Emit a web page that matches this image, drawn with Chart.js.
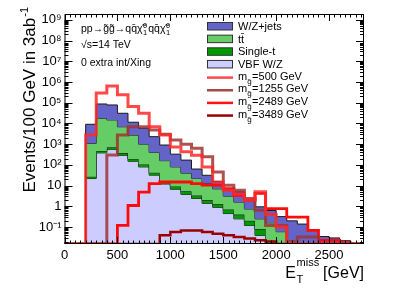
<!DOCTYPE html>
<html>
<head>
<meta charset="utf-8">
<script src="https://cdn.jsdelivr.net/npm/chart.js@4.4.1/dist/chart.umd.min.js"></script>
<style>
  html, body { margin: 0; padding: 0; background: #fff; }
  #wrap { width: 405px; height: 291px; }
</style>
</head>
<body>
<div id="wrap"><canvas id="c" width="405" height="291"></canvas></div>
<script>
// bin lower edges, 100 GeV wide
const binLow = [0,100,200,300,400,500,600,700,800,900,1000,1100,1200,1300,1400,
                1500,1600,1700,1800,1900,2000,2100,2200,2300,2400,2500,2600,2700];

// backgrounds (per bin, events / 100 GeV)
const vbfWZ   = [0,0,22,380,560,290,150,80,32,12,6.7,3.8,2.4,1.4,0.9,0.45,0.25,0.12,0.04,0,0,0,0,0,0,0,0,0];
const singleT = [0,0,5,90,150,80,45,25,10,4,2.5,1.5,0.9,0.6,0.4,0.25,0.15,0.08,0.04,0.02,0,0,0,0,0,0,0,0];
const ttbar   = [0,0,1070,17300,14100,6530,2550,895,358,144,71,35,19,10.6,5.7,2.4,1.2,0.55,0.17,0.14,0.06,0,0,0,0,0,0,0];
const wzJets  = [0,0,8000,69000,63000,24000,8700,4900,1900,750,250,130,41,19,8.8,3.1,3.4,1.2,0.7,0.47,0.26,0.2,0.14,0.07,0.035,0.03,0.022,0];

// signals
const sig500  = [0,0,2800,290000,640000,240000,65000,31000,6900,2800,740,430,295,80,15,6,4,2,5,0.4,0.1,0,0,0,0,0,0,0];
const sig1255 = [0,0,0,0,300,2800,7000,7000,4800,3000,1600,1000,630,245,46,10.5,6,2.4,0.65,0.12,0.12,0.02,0.033,0.033,0,0,0,0];
const sig2489 = [0,0,0,0,0,0.12,1.1,4.9,12.6,15,15,15,12.6,10.5,10.5,7.2,3.4,2,4.2,0.77,0.77,0.3,0.3,0.07,0.023,0.023,0.018,0];
const sig3489 = [0,0,0,0,0,0,0,0,0,0.04,0.058,0.069,0.069,0.058,0.048,0.04,0.033,0.028,0.023,0.02,0,0,0,0,0,0,0,0];

const xTicks = [0, 500, 1000, 1500, 2000, 2500];
const yExps = [-1,0,1,2,3,4,5,6,7,8,9];

const Y_MIN = 0.0153, Y_MAX = 1.9e9, X_MAX = 2830;
const FONT = "'Liberation Sans', Arial, sans-serif";

function steps(vals) {
  const pts = vals.map((v, i) => ({ x: binLow[i], y: Math.max(v, Y_MIN) }));
  pts.push({ x: binLow[binLow.length - 1] + 100, y: Math.max(vals[vals.length - 1], Y_MIN) });
  return pts;
}
function addArr(a, b) { return a.map((v, i) => v + b[i]); }

const cumVbf = vbfWZ;
const cumSt = addArr(cumVbf, singleT);
const cumTt = addArr(cumSt, ttbar);
const cumWz = addArr(cumTt, wzJets);

const sup = { '-': '\u207B', '0': '\u2070', '1': '\u00B9', '2': '\u00B2', '3': '\u00B3',
  '4': '\u2074', '5': '\u2075', '6': '\u2076', '7': '\u2077', '8': '\u2078', '9': '\u2079' };

// 'before' = horizontal at previous value, then vertical at the next edge
function bgSet(label, data, color, fill, order) {
  return { label, data: steps(data), stepped: 'before', fill, backgroundColor: color,
    borderColor: '#1a1a1a', borderWidth: 1, pointRadius: 0, order, clip: 0 };
}
function sigSet(label, data, color, width) {
  return { label, data: steps(data), stepped: 'before', fill: false, borderColor: color,
    borderWidth: width, pointRadius: 0, order: 0, clip: 0 };
}

const legendItems = [
  { text: 'W/Z+jets', box: '#6464c8' },
  { text: 'tt\u0304', box: '#66cc66' },
  { text: 'Single-t', box: '#009900' },
  { text: 'VBF W/Z', box: '#ccccff' },
  { mass: '500', line: '#ff4a4a' },
  { mass: '1255', line: '#a84848' },
  { mass: '2489', line: '#ff1010' },
  { mass: '3489', line: '#9a0000' }
];

const rootStyle = {
  id: 'rootStyle',
  afterDraw(chart) {
    const ctx = chart.ctx;
    const { left, right, top, bottom } = chart.chartArea;
    const xs = chart.scales.x, ys = chart.scales.y;
    ctx.save();
    ctx.strokeStyle = '#000';
    ctx.lineWidth = 1;
    ctx.beginPath();
    // x ticks
    for (let v = 0; v <= X_MAX; v += 50) {
      const px = Math.round(xs.getPixelForValue(v)) + 0.5;
      const len = v % 500 === 0 ? 7 : 3.5;
      ctx.moveTo(px, bottom); ctx.lineTo(px, bottom - len);
      ctx.moveTo(px, top); ctx.lineTo(px, top + len);
    }
    // y ticks
    for (let e = -2; e <= 9; e++) {
      for (let k = 1; k <= 9; k++) {
        const v = k * Math.pow(10, e);
        if (v < Y_MIN || v > Y_MAX) continue;
        const py = Math.round(ys.getPixelForValue(v)) + 0.5;
        const len = k === 1 ? 8 : 4;
        ctx.moveTo(left, py); ctx.lineTo(left + len, py);
        ctx.moveTo(right, py); ctx.lineTo(right - len, py);
      }
    }
    ctx.stroke();
    ctx.strokeRect(left + 0.5, top + 0.5, right - left - 1, bottom - top - 1);

    ctx.fillStyle = '#000';
    // annotation
    ctx.textAlign = 'left';
    let x = 81;
    const part = (t, dx, dy, f) => {
      ctx.font = f + 'px ' + FONT;
      ctx.fillText(t, x + (dx || 0), 32 + (dy || 0));
      return ctx.measureText(t).width;
    };
    x += part('pp\u2192g\u0303g\u0303\u2192qq\u0304\u03C7\u0303', 0, 0, 10.5);
    part('0', 0.5, -4, 7.5); x += part('1', 0.5, 3, 7.5) + 1.5;
    x += part('qq\u0304\u03C7\u0303', 0, 0, 10.5);
    part('0', 0.5, -4, 7.5); part('1', 0.5, 3, 7.5);
    ctx.font = '10.5px ' + FONT;
    ctx.fillText('\u221As=14 TeV', 81, 47.5);
    ctx.fillText('0 extra int/Xing', 81, 66);

    // legend
    legendItems.forEach((it, i) => {
      const cy = 26 + i * 12.65;
      if (it.box) {
        ctx.fillStyle = it.box;
        ctx.fillRect(207, cy - 3.5, 26, 7.5);
        ctx.strokeStyle = '#333';
        ctx.strokeRect(207.5, cy - 3.5, 25, 7.5);
        ctx.fillStyle = '#000';
        ctx.font = '11px ' + FONT;
        ctx.fillText(it.text, 238, cy + 4);
      } else {
        ctx.strokeStyle = it.line;
        ctx.lineWidth = 2.5;
        ctx.beginPath(); ctx.moveTo(207, cy + 1); ctx.lineTo(233, cy + 1); ctx.stroke();
        ctx.lineWidth = 1;
        ctx.fillStyle = '#000';
        ctx.font = '11px ' + FONT;
        ctx.fillText('m', 238, cy + 3);
        let w = ctx.measureText('m').width;
        ctx.font = '8px ' + FONT;
        ctx.fillText('g\u0303', 238 + w, cy + 7);
        w += ctx.measureText('g').width + 0.5;
        ctx.font = '11px ' + FONT;
        ctx.fillText('=' + it.mass + ' GeV', 238 + w, cy + 3);
      }
    });

    // y title
    ctx.fillStyle = '#000';
    ctx.font = '17px ' + FONT;
    const yMain = 'Events/100 GeV in 3ab';
    const mainW = ctx.measureText(yMain).width;
    ctx.font = '11px ' + FONT;
    const supW = ctx.measureText('-1').width;
    ctx.save();
    ctx.translate(35, 8 + mainW + supW);
    ctx.rotate(-Math.PI / 2);
    ctx.font = '17px ' + FONT;
    ctx.fillText(yMain, 0, 0);
    ctx.font = '11px ' + FONT;
    ctx.fillText('-1', mainW + 1, -7);
    ctx.restore();

    // x title
    ctx.font = '16px ' + FONT;
    const wE = ctx.measureText('E').width;
    const wG = ctx.measureText(' [GeV]').width;
    ctx.font = '11px ' + FONT;
    const wM = ctx.measureText('miss').width;
    let tx = right - (wE + wM + wG);
    ctx.font = '16px ' + FONT;
    ctx.fillText('E', tx, 278);
    ctx.font = '11px ' + FONT;
    ctx.fillText('miss', tx + wE + 0.5, 266);
    ctx.fillText('T', tx + wE + 0.5, 283);
    ctx.font = '16px ' + FONT;
    ctx.fillText(' [GeV]', tx + wE + wM, 278);
    ctx.restore();
  }
};

new Chart(document.getElementById('c'), {
  type: 'line',
  data: {
    datasets: [
      sigSet('m500', sig500, 'rgba(255,40,40,0.85)', 3),
      sigSet('m1255', sig1255, 'rgba(160,50,50,0.85)', 3),
      sigSet('m2489', sig2489, '#ff0a0a', 2.8),
      sigSet('m3489', sig3489, '#9a0000', 2.5),
      bgSet('VBF W/Z', cumVbf, '#ccccff', 'start', 4),
      bgSet('Single-t', cumSt, '#009900', '-1', 3),
      bgSet('ttbar', cumTt, '#66cc66', '-1', 2),
      bgSet('W/Z+jets', cumWz, '#6464c8', '-1', 1)
    ]
  },
  options: {
    responsive: false,
    animation: false,
    layout: { padding: { left: 0, right: 41, top: 14, bottom: 0 } },
    plugins: { legend: { display: false }, tooltip: { enabled: false } },
    elements: { line: { tension: 0 } },
    scales: {
      x: {
        type: 'linear', min: 0, max: X_MAX,
        grid: { display: false, drawTicks: false }, border: { display: false },
        afterBuildTicks: (s) => { s.ticks = xTicks.map(v => ({ value: v })); },
        afterFit: (s) => { s.height = 47; },
        ticks: { color: '#000', font: { family: FONT, size: 13 }, padding: 4, maxRotation: 0,
          callback: (v) => String(v) }
      },
      y: {
        type: 'logarithmic', min: Y_MIN, max: Y_MAX,
        grid: { display: false, drawTicks: false }, border: { display: false },
        afterBuildTicks: (s) => { s.ticks = yExps.map(e => ({ value: Math.pow(10, e) })); },
        afterFit: (s) => { s.width = 64.5; },
        ticks: { color: '#000', font: { family: FONT, size: 13 }, padding: 3,
          callback: (v) => {
            const e = Math.round(Math.log10(v));
            if (e === 0) return '1';
            if (e === 1) return '10';
            return '10' + String(e).split('').map(ch => sup[ch]).join('');
          } }
      }
    }
  },
  plugins: [rootStyle]
});
</script>
</body>
</html>
